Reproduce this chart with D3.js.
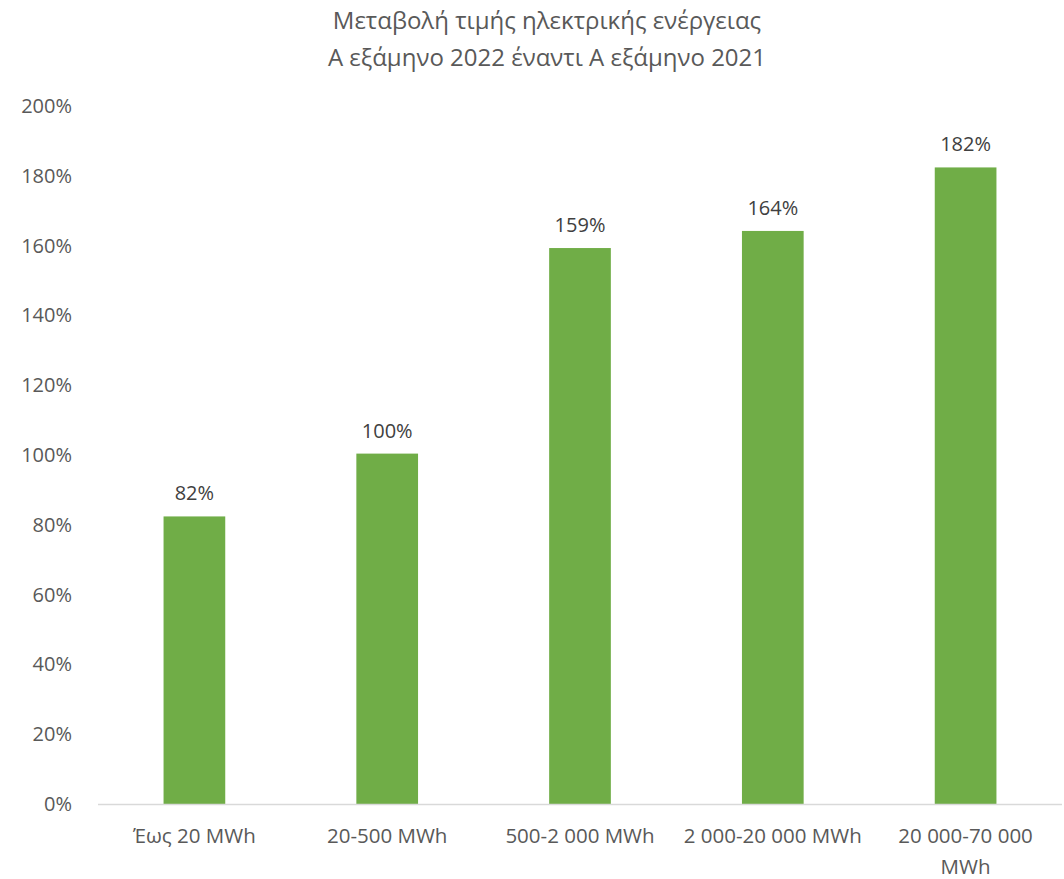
<!DOCTYPE html>
<html>
<head>
<meta charset="utf-8">
<script src="https://cdn.jsdelivr.net/npm/d3@7"></script>
<style>
  body { margin: 0; background: #fff; }
  text { font-family: "Open Sans", sans-serif; }
</style>
</head>
<body>
<svg id="chart" width="1064" height="879"></svg>
<script>
// chart data
const categories = ["Έως 20 MWh", "20-500 MWh", "500-2 000 MWh", "2 000-20 000 MWh", "20 000-70 000 MWh"];
const values = [82.4, 100.4, 159.3, 164.2, 182.4];
const yTicks = [0, 20, 40, 60, 80, 100, 120, 140, 160, 180, 200];
const titleLines = ["Μεταβολή τιμής ηλεκτρικής ενέργειας", "Α εξάμηνο 2022 έναντι Α εξάμηνο 2021"];

const width = 1064;
const height = 879;
const margin = { top: 106, right: 2, bottom: 75, left: 98 };

const svg = d3.select("#chart");

const x = d3
  .scaleBand()
  .domain(categories)
  .range([margin.left, width - margin.right])
  .paddingInner(0.68)
  .paddingOuter(0.34);

const y = d3
  .scaleLinear()
  .domain([0, 200])
  .range([height - margin.bottom, margin.top]);

// title
svg
  .append("g")
  .selectAll("text")
  .data(titleLines)
  .join("text")
  .attr("x", 547)
  .attr("y", (d, i) => 29 + i * 37)
  .attr("text-anchor", "middle")
  .attr("fill", "#595959")
  .style("font-size", "24px")
  .text((d) => d);

// y axis labels (no line)
const yAxis = svg
  .append("g")
  .attr("transform", `translate(${margin.left - 23},0)`)
  .call(d3.axisLeft(y).tickValues(yTicks).tickSize(0).tickFormat((d) => d + "%"));
yAxis.select(".domain").remove();
yAxis
  .selectAll("text")
  .attr("fill", "#595959")
  .style("font-size", "20px")
  .style("font-family", "'Open Sans', sans-serif");

// bars
svg
  .append("g")
  .selectAll("rect")
  .data(values)
  .join("rect")
  .attr("x", (d, i) => x(categories[i]))
  .attr("y", (d) => y(d))
  .attr("width", x.bandwidth())
  .attr("height", (d) => y(0) - y(d))
  .attr("fill", "#70AD47");

// baseline
svg
  .append("line")
  .attr("x1", margin.left)
  .attr("x2", width - margin.right)
  .attr("y1", y(0) + 0.5)
  .attr("y2", y(0) + 0.5)
  .attr("stroke", "#D9D9D9")
  .attr("stroke-width", 1.5);

// value labels
svg
  .append("g")
  .selectAll("text")
  .data(values)
  .join("text")
  .attr("x", (d, i) => x(categories[i]) + x.bandwidth() / 2)
  .attr("y", (d) => y(d) - 16)
  .attr("text-anchor", "middle")
  .attr("fill", "#404040")
  .style("font-size", "20px")
  .text((d) => Math.round(d) + "%");

// category labels, wrapped when wider than the band
const maxW = x.step() - 8;
const catG = svg.append("g");
categories.forEach((c) => {
  const t = catG
    .append("text")
    .attr("x", x(c) + x.bandwidth() / 2)
    .attr("y", y(0) + 39)
    .attr("text-anchor", "middle")
    .attr("fill", "#595959")
    .style("font-size", "20.5px")
    .text(c);
  if (t.node().getComputedTextLength() > maxW) {
    const parts = c.split(" ");
    const last = parts.pop();
    t.text(null);
    t.append("tspan").attr("x", t.attr("x")).text(parts.join(" "));
    t.append("tspan").attr("x", t.attr("x")).attr("dy", 31).text(last);
  }
});
</script>
</body>
</html>
